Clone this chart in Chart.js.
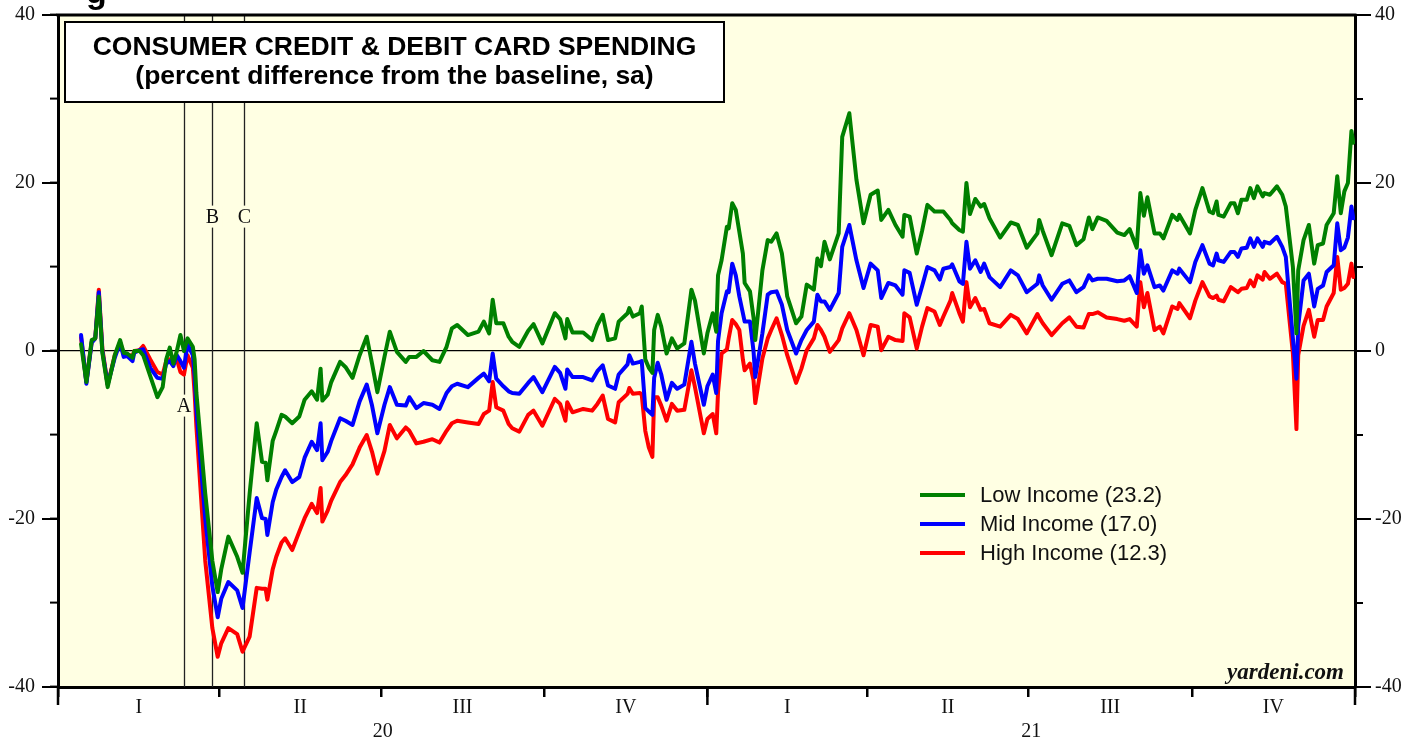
<!DOCTYPE html>
<html>
<head>
<meta charset="utf-8">
<title>Consumer Credit & Debit Card Spending</title>
<script src="https://cdn.jsdelivr.net/npm/chart.js@4.4.1/dist/chart.umd.min.js"></script>
<style>
  html, body { margin: 0; padding: 0; background: #fff; }
  #wrap { width: 1419px; height: 744px; }
</style>
</head>
<body>
<div id="wrap"><canvas id="chart" width="1419" height="744"></canvas></div>
<script>
// days since Jan 1 2020
var days = [13,16,19,21,23,25,28,32,35,37,39,42,43,46,48,52,56,59,61,63,65,67,69,71,73,76,77,78,83,87,
  90,92,96,101,104,108,112,115,117,118,121,123,126,128,132,136,139,143,146,148,149,152,154,159,162,166,170,174,177,180,
  184,187,191,196,198,202,206,211,215,219,222,225,231,237,240,243,245,247,251,254,256,260,265,268,273,280,283,286,287,290,
  296,301,304,307,310,314,316,321,322,324,328,329,331,333,335,336,338,340,343,346,349,353,357,359,364,366,369,371,372,374,
  377,378,380,382,384,386,387,390,392,393,397,400,402,405,408,411,416,419,422,426,428,430,432,435,440,442,446,450,454,458,
  462,464,468,472,476,477,480,484,487,490,494,497,499,503,504,508,510,512,514,517,520,522,525,531,537,541,546,552,553,555,
  560,566,570,574,578,581,583,586,591,597,601,604,608,610,612,614,618,621,623,628,631,632,638,641,645,649,651,653,654,657,
  661,663,665,667,670,672,674,676,679,680,683,687,690,692,696,698,699,702,705,708,710,713,715,719,721,723,725,727,729,730];

var lowIncome = [0.8,-3.7,1.3,1.5,6.5,-0.2,-4.3,-0.5,1.3,-0.2,-0.3,-0.8,0.0,0.0,-0.5,-3.0,-5.5,-4.3,-1.0,0.4,-1.5,0.0,1.9,0.0,1.5,0.5,-1.0,-5,-17,-25,
  -28.7,-26,-22.1,-24.5,-26.4,-17,-8.6,-13.2,-13.3,-15.4,-10.7,-9.5,-7.6,-7.8,-8.6,-7.8,-5.8,-4.8,-5.8,-2.1,-5.9,-5.2,-3.7,-1.3,-1.9,-3.2,-0.5,1.7,-1.5,-4.9,
  -0.7,2.3,-0.1,-1.3,-0.7,-0.7,0.0,-1.1,-1.3,0.5,2.7,3.1,1.9,2.3,3.5,2.1,6.1,3.3,3.3,1.7,1.1,0.5,2.4,3.2,0.9,4.5,3.8,1.5,3.8,2.2,
  2.2,1.3,3.1,4.3,1.3,1.5,3.5,4.5,5.1,4.1,4.5,5.3,-1.0,-2.0,-2.6,2.5,4.3,2.9,-0.3,1.5,0.3,0.9,7.3,6.0,-0.3,2.1,4.5,2.3,9.0,10.8,
  14.8,14.6,17.6,16.8,14.2,11.6,8.1,7.1,4.0,1.3,9.6,13.2,13.0,14.0,11.6,6.5,3.3,4.1,7.9,7.3,11.0,10.1,13.0,10.9,14.0,25.5,28.3,20.4,15.2,18.6,
  19.1,15.6,16.8,15.0,13.6,16.2,16.0,11.6,14.3,17.4,16.6,16.6,16.6,15.6,15.2,14.4,14.2,20.0,16.3,18.1,17.2,17.5,15.8,13.5,15.3,15.0,12.3,14.0,15.6,14.3,
  11.4,15.2,14.9,12.6,13.3,15.9,14.5,15.9,15.5,14.1,13.8,14.5,12.3,18.8,16.1,18.3,14.0,14.0,13.4,16.2,15.6,16.2,14.0,16.8,19.4,16.6,16.4,17.8,16.2,16.0,
  17.6,17.6,16.4,18.0,18.0,19.4,18.2,19.6,18.4,18.8,18.6,19.6,18.6,17.2,10.0,2.1,9.6,13.2,15.0,10.4,12.6,12.8,15.0,16.4,20.8,16.4,19.0,20.0,26.2,24.8];

var midIncome = [1.9,-3.9,1.0,1.5,7.0,0.0,-4.0,-0.8,1.0,-0.7,-0.6,-1.2,-0.2,0.1,0.2,-2.0,-3.2,-3.3,-1.5,-1.2,-1.8,-0.5,-1.2,-2.0,0.8,-0.5,-3.0,-7,-20,-28,
  -31.7,-29.5,-27.5,-28.5,-30.6,-24,-17.5,-19.9,-20.0,-21.9,-18,-16.5,-15.0,-14.2,-15.6,-15.0,-12.7,-10.8,-11.8,-8.6,-13.0,-12.0,-10.7,-8.0,-8.3,-8.8,-6.0,-4.0,-6.5,-9.8,
  -6.4,-4.3,-6.4,-6.5,-5.5,-6.8,-6.2,-6.4,-6.9,-5.0,-4.2,-3.9,-4.3,-3.2,-2.7,-3.6,-0.3,-3.3,-4.2,-4.8,-5.0,-5.1,-3.8,-3.1,-4.9,-1.9,-2.6,-4.5,-2.2,-3.1,
  -3.1,-3.5,-2.4,-1.7,-4.1,-4.5,-2.8,-1.6,-0.5,-1.5,-1.3,-1.2,-6.8,-7.2,-7.6,-3.2,-1.4,-2.8,-5.8,-3.8,-4.5,-4.0,1.1,-1.5,-6.4,-4.2,-2.8,-5.0,1.2,4.5,
  7.1,7.0,10.4,9.0,6.5,4.5,3.5,3.5,0.0,-3.1,2.1,6.7,7.0,7.1,5.5,2.5,-0.3,1.3,2.5,3.5,6.7,5.9,5.9,4.9,6.9,12.4,15.0,10.8,7.5,10.4,
  9.6,6.3,8.1,7.8,6.7,9.6,9.3,5.5,7.7,10.0,9.6,8.5,9.8,10.0,10.3,8.3,8.0,13.0,9.8,10.8,9.4,10.4,8.8,7.6,9.6,9.0,7.0,8.0,9.0,7.8,
  6.1,8.0,8.4,7.0,7.6,9.0,8.4,8.6,8.6,8.3,8.4,8.9,6.9,12.0,9.2,10.2,7.6,7.8,7.2,9.6,9.2,9.8,8.2,10.6,12.6,10.4,10.2,11.6,10.8,10.6,
  11.8,11.8,11.2,12.2,12.3,13.4,12.4,13.4,12.4,13.0,12.8,13.6,12.4,11.2,1.5,-3.3,3.0,8.4,9.2,5.3,7.4,7.8,9.4,10.2,15.2,12.0,12.3,13.5,17.2,15.8];

var highIncome = [1.6,-3.7,1.1,1.5,7.3,0.3,-4.0,-0.5,1.0,-0.3,-0.4,-0.6,0.0,0.1,0.6,-1.0,-2.5,-2.8,-1.2,-1.0,-1.6,-1.0,-2.5,-2.8,-0.5,-2.0,-5.0,-9,-25,-33,
  -36.4,-34.8,-33,-33.7,-35.8,-34,-28.2,-28.3,-28.3,-29.6,-26,-24.5,-22.8,-22.3,-23.7,-21.5,-19.9,-18.2,-19.3,-16.3,-20.3,-19.0,-17.8,-15.6,-14.8,-13.5,-11.5,-10.0,-12.0,-14.6,
  -11.9,-8.8,-10.4,-9.1,-9.5,-11.0,-10.8,-10.5,-10.9,-9.5,-8.6,-8.3,-8.5,-8.7,-7.5,-7.1,-3.7,-6.7,-7.1,-8.7,-9.2,-9.6,-7.6,-7.1,-8.9,-5.7,-6.3,-8.3,-6.1,-7.3,
  -6.9,-7.1,-6.3,-5.3,-8.1,-8.5,-6.1,-5.1,-4.4,-5.1,-5.0,-5.2,-9.5,-11.5,-12.6,-5.5,-5.5,-6.5,-8.3,-6.3,-7.1,-7.0,-2.3,-4.3,-9.8,-8.1,-7.5,-9.8,-4.9,-0.3,
  0.2,1.5,3.7,3.2,2.5,-1.0,-2.3,-1.5,-3.5,-6.2,-0.9,1.5,2.5,3.9,1.9,-0.5,-3.8,-2.1,0.1,1.5,3.1,2.5,1.7,-0.1,1.3,2.7,4.5,2.5,-0.5,3.1,
  2.9,0.1,1.7,1.3,1.2,4.5,4.0,0.3,2.9,5.1,4.7,3.1,4.1,6.0,6.9,4.5,3.5,8.2,5.2,6.3,4.9,5.0,3.3,2.9,4.3,3.8,2.1,4.4,4.0,3.3,
  1.9,3.3,4.0,2.9,2.8,4.4,4.4,4.6,4.0,3.8,3.6,3.8,2.9,8.2,5.2,6.9,2.5,2.9,2.1,5.3,5.0,5.7,3.9,6.0,8.2,6.5,6.3,6.6,6.1,5.9,
  7.6,7.3,7.0,7.4,7.5,8.4,7.7,9.0,8.5,9.4,8.6,9.2,8.2,8.0,-0.3,-9.3,-0.5,3.0,4.9,1.7,3.7,3.7,5.3,6.9,11.2,7.3,7.5,8.0,10.4,8.8];

var seriesNames = ['Low Income (23.2)', 'Mid Income (17.0)', 'High Income (12.3)'];
var seriesColors = ['#008000', '#0000ff', '#ff0000'];

var quarterStarts = [0, 91, 182, 274, 366, 456, 547, 639, 731];
var quarterLabels = ['I', 'II', 'III', 'IV', 'I', 'II', 'III', 'IV'];
var yearStarts = [0, 366, 731];
var yearLabels = ['20', '21'];

var eventDays = [71, 87, 105];
var eventLabels = ['A', 'B', 'C'];

var PLOT_BG = '#ffffe3';
var SERIF = '"Liberation Serif", "Times New Roman", serif';
var SANS = '"Liberation Sans", Arial, sans-serif';

function points(values){
    return days.map(function(d, i){ return {x: d, y: values[i]}; });
}

function makeSet(i, values){
    return {
        label: seriesNames[i],
        data: points(values),
        borderColor: seriesColors[i],
        backgroundColor: seriesColors[i],
        borderWidth: 4,
        pointRadius: 0,
        tension: 0,
        fill: false
    };
}

var decor = {
    id: 'decor',
    beforeDraw: function(chart){
        var ctx = chart.ctx, a = chart.chartArea;
        ctx.save();
        ctx.fillStyle = '#fff';
        ctx.fillRect(0, 0, chart.width, chart.height);
        ctx.fillStyle = PLOT_BG;
        ctx.fillRect(a.left, a.top, a.right - a.left, a.bottom - a.top);
        // bottom of a heading cut off by the page edge
        ctx.fillStyle = '#000';
        ctx.font = 'bold 34px ' + SANS;
        ctx.textBaseline = 'alphabetic';
        ctx.fillText('g', 86, 3);
        ctx.restore();
    },
    beforeDatasetsDraw: function(chart){
        var ctx = chart.ctx, a = chart.chartArea, xs = chart.scales.x, ys = chart.scales.y;
        ctx.save();
        ctx.strokeStyle = '#222';
        ctx.lineWidth = 1.3;
        eventDays.forEach(function(d){
            var px = Math.round(xs.getPixelForValue(d)) + 0.5;
            ctx.beginPath();
            ctx.moveTo(px, a.top);
            ctx.lineTo(px, a.bottom);
            ctx.stroke();
        });
        ctx.font = '20px ' + SERIF;
        ctx.textAlign = 'center';
        ctx.textBaseline = 'middle';
        eventDays.forEach(function(d, i){
            var px = xs.getPixelForValue(d);
            var py = ys.getPixelForValue(i === 0 ? -6.5 : 16);
            var w = ctx.measureText(eventLabels[i]).width + 6;
            ctx.fillStyle = PLOT_BG;
            ctx.fillRect(px - w / 2, py - 11, w, 22);
            ctx.fillStyle = '#111';
            ctx.fillText(eventLabels[i], px, py + 1);
        });
        ctx.restore();
    },
    afterDraw: function(chart){
        var ctx = chart.ctx, a = chart.chartArea, xs = chart.scales.x, ys = chart.scales.y;
        ctx.save();
        ctx.strokeStyle = '#000';

        // top frame line
        ctx.lineWidth = 3;
        ctx.beginPath();
        ctx.moveTo(a.left - 1.5, a.top);
        ctx.lineTo(a.right + 1.5, a.top);
        ctx.stroke();

        // longer major ticks on both value axes
        ctx.lineWidth = 2;
        [-40, -20, 0, 20, 40].forEach(function(v){
            var py = ys.getPixelForValue(v);
            ctx.beginPath();
            ctx.moveTo(a.left - 16, py); ctx.lineTo(a.left, py);
            ctx.moveTo(a.right, py); ctx.lineTo(a.right + 16, py);
            ctx.stroke();
        });

        // longer year ticks
        ctx.lineWidth = 2.5;
        yearStarts.forEach(function(d){
            var px = xs.getPixelForValue(d);
            ctx.beginPath();
            ctx.moveTo(px, a.bottom);
            ctx.lineTo(px, a.bottom + 18);
            ctx.stroke();
        });

        // quarter and year labels
        ctx.fillStyle = '#111';
        ctx.font = '20px ' + SERIF;
        ctx.textAlign = 'center';
        ctx.textBaseline = 'middle';
        quarterLabels.forEach(function(q, i){
            var px = xs.getPixelForValue((quarterStarts[i] + quarterStarts[i + 1]) / 2);
            ctx.fillText(q, px, a.bottom + 21);
        });
        yearLabels.forEach(function(yl, i){
            var px = xs.getPixelForValue((yearStarts[i] + yearStarts[i + 1]) / 2);
            ctx.fillText(yl, px, a.bottom + 45);
        });

        // source
        ctx.font = 'italic bold 23px ' + SERIF;
        ctx.textAlign = 'right';
        ctx.textBaseline = 'alphabetic';
        ctx.fillText('yardeni.com', a.right - 11, a.bottom - 8);

        // title box
        var bx = a.left + 7, by = a.top + 7, bw = 659, bh = 80;
        ctx.fillStyle = '#fff';
        ctx.fillRect(bx, by, bw, bh);
        ctx.lineWidth = 2;
        ctx.strokeRect(bx, by, bw, bh);
        ctx.fillStyle = '#000';
        ctx.font = 'bold 26.5px ' + SANS;
        ctx.textAlign = 'center';
        ctx.textBaseline = 'middle';
        ctx.fillText('CONSUMER CREDIT & DEBIT CARD SPENDING', bx + bw / 2, by + 26);
        ctx.fillText('(percent difference from the baseline, sa)', bx + bw / 2, by + 55);

        // legend
        ctx.font = '22px ' + SANS;
        ctx.textAlign = 'left';
        chart.data.datasets.forEach(function(ds, i){
            var ly = 495 + i * 29;
            ctx.strokeStyle = ds.borderColor;
            ctx.lineWidth = 4;
            ctx.beginPath();
            ctx.moveTo(920, ly);
            ctx.lineTo(965, ly);
            ctx.stroke();
            ctx.fillStyle = '#111';
            ctx.fillText(ds.label, 980, ly + 1);
        });
        ctx.restore();
    }
};

function valueTicks(pad){
    return {
        stepSize: 10,
        padding: pad,
        color: '#111',
        font: {family: SERIF, size: 20},
        callback: function(v){ return v % 20 === 0 ? v : ''; }
    };
}

function fixWidth(w){
    return function(s){
        s.width = w;
        s.paddingTop = 0;
        s.paddingBottom = 0;
    };
}

var chart = new Chart(document.getElementById('chart'), {
    type: 'line',
    data: {
        datasets: [makeSet(0, lowIncome), makeSet(1, midIncome), makeSet(2, highIncome)]
    },
    options: {
        responsive: false,
        animation: false,
        layout: {padding: {top: 15, left: 0, right: 0, bottom: 0}},
        plugins: {legend: {display: false}, tooltip: {enabled: false}},
        elements: {line: {borderJoinStyle: 'round', borderCapStyle: 'round'}},
        scales: {
            x: {
                type: 'linear',
                min: 0,
                max: 731,
                afterBuildTicks: function(s){ s.ticks = quarterStarts.map(function(v){ return {value: v}; }); },
                ticks: {display: false},
                grid: {drawOnChartArea: false, color: '#000', lineWidth: 2.5, tickLength: 10},
                border: {width: 3, color: '#000'},
                afterFit: function(s){ s.height = 57; s.paddingLeft = 0; s.paddingRight = 0; }
            },
            y: {
                position: 'left',
                min: -40,
                max: 40,
                ticks: valueTicks(15),
                grid: {
                    color: function(c){ return c.tick && c.tick.value === 0 ? '#000' : 'rgba(0,0,0,0)'; },
                    lineWidth: 1.2,
                    tickColor: '#000',
                    tickWidth: 2,
                    tickLength: 8
                },
                border: {width: 3, color: '#000'},
                afterFit: fixWidth(58)
            },
            y2: {
                position: 'right',
                min: -40,
                max: 40,
                ticks: valueTicks(12),
                grid: {drawOnChartArea: false, color: '#000', lineWidth: 2, tickLength: 8},
                border: {width: 3, color: '#000'},
                afterFit: fixWidth(64)
            }
        }
    },
    plugins: [decor]
});
</script>
</body>
</html>
